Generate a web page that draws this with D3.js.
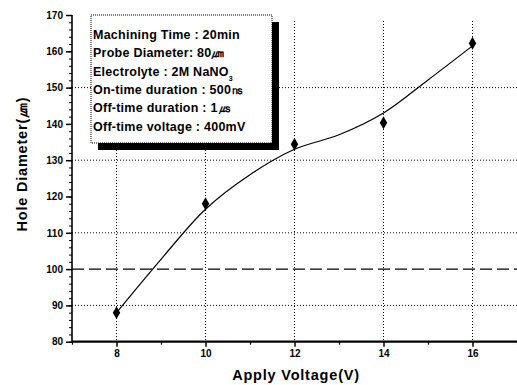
<!DOCTYPE html>
<html>
<head>
<meta charset="utf-8">
<script src="https://cdn.jsdelivr.net/npm/d3@7"></script>
<style>
  body { margin: 0; background: #fff; }
  svg { display: block; font-family: "Liberation Sans", Arial, sans-serif; font-weight: bold; }
</style>
</head>
<body>
<svg id="drawing_region"></svg>
<script>
// measured points
const voltage  = [8, 10, 12, 14, 16];
const diameter = [88, 118, 134.4, 140.3, 162.2];

// fitted curve
const fitVoltage  = [8, 9, 10, 11, 12, 13, 14, 15, 16];
const fitDiameter = [88, 102.7, 116.5, 126, 133, 137, 143, 152.1, 161.5];

const xTicks = [8, 10, 12, 14, 16];
const yTicks = [80, 90, 100, 110, 120, 130, 140, 150, 160, 170];
const gridY  = [90, 110, 130, 150];
const refY   = 100;

const noteLines = [
    ['Machining Time : 20min'],
    ['Probe Diameter: 80㎛'],
    ['Electrolyte : 2M NaNO', '3'],
    ['On-time duration : 500㎱'],
    ['Off-time duration : 1㎲'],
    ['Off-time voltage : 400mV']
];

const config = {
    width: 517, height: 385,
    margin: { top: 15, right: 0, bottom: 43.3, left: 72 }
};

const svg = d3.select('#drawing_region')
    .attr('width', config.width)
    .attr('height', config.height);

const chart = svg.append('g')
    .attr('transform', `translate(${config.margin.left}, ${config.margin.top})`);

const inner_width  = config.width  - config.margin.left - config.margin.right;
const inner_height = config.height - config.margin.top  - config.margin.bottom;

const xscale = d3.scaleLinear().domain([7, 17]).range([0, inner_width]);
const yscale = d3.scaleLinear().domain([80, 170]).range([inner_height, 0]);

// grid
chart.append('g').selectAll('line')
    .data(xTicks)
    .join('line')
    .attr('x1', d => xscale(d)).attr('x2', d => xscale(d))
    .attr('y1', 6).attr('y2', inner_height)
    .attr('stroke', '#000').attr('stroke-width', 1)
    .attr('stroke-dasharray', '1,2');

chart.append('g').selectAll('line')
    .data(gridY)
    .join('line')
    .attr('x1', 0).attr('x2', inner_width)
    .attr('y1', d => yscale(d)).attr('y2', d => yscale(d))
    .attr('stroke', '#000').attr('stroke-width', 1)
    .attr('stroke-dasharray', '1,2');

chart.append('line')
    .attr('x1', 0).attr('x2', inner_width)
    .attr('y1', yscale(refY)).attr('y2', yscale(refY))
    .attr('stroke', '#000').attr('stroke-width', 1.2)
    .attr('stroke-dasharray', '12,5');

// fitted curve
const line = d3.line()
    .x(d => xscale(d[0]))
    .y(d => yscale(d[1]))
    .curve(d3.curveCatmullRom);

chart.append('path')
    .datum(d3.zip(fitVoltage, fitDiameter))
    .attr('d', line)
    .attr('fill', 'none')
    .attr('stroke', '#000')
    .attr('stroke-width', 1.2);

// points
chart.append('g').selectAll('path')
    .data(d3.zip(voltage, diameter))
    .join('path')
    .attr('transform', d => `translate(${xscale(d[0])}, ${yscale(d[1])})`)
    .attr('d', d3.symbol(d3.symbolDiamond, 48))
    .attr('fill', '#000');

// note box
const box = { x: 19, y: 0, w: 181, h: 128, shadow: 7 };
const note = chart.append('g');
note.append('rect')
    .attr('x', box.x + box.shadow).attr('y', box.y + box.shadow)
    .attr('width', box.w).attr('height', box.h)
    .attr('fill', '#000');
note.append('rect')
    .attr('x', box.x).attr('y', box.y)
    .attr('width', box.w).attr('height', box.h)
    .attr('fill', '#fff')
    .attr('stroke', '#000').attr('stroke-width', 1)
    .attr('stroke-dasharray', '1,1');

const noteText = note.selectAll('text')
    .data(noteLines)
    .join('text')
    .attr('x', box.x + 2)
    .attr('y', (d, i) => 24 + i * 18.3)
    .attr('font-size', 12.5)
    .attr('letter-spacing', 0.25);
noteText.append('tspan').text(d => d[0]);
noteText.filter(d => d.length > 1)
    .append('tspan')
    .attr('dy', 5)
    .attr('font-size', 7)
    .text(d => d[1]);

// axes
const xaxis = d3.axisBottom(xscale)
    .tickValues(xTicks).tickSize(5).tickPadding(3)
    .tickFormat(d3.format('d'));
const xminor = d3.axisBottom(xscale)
    .tickValues(d3.range(7, 17, 2).concat([17])).tickSize(3).tickFormat('');
const yaxis = d3.axisLeft(yscale)
    .tickValues(yTicks).tickSize(6).tickPadding(3)
    .tickFormat(d3.format('d'));
const yminor = d3.axisLeft(yscale)
    .tickValues(d3.range(80, 171, 2)).tickSize(3).tickFormat('');

function styleAxis(g, w) {
    g.select('.domain').attr('stroke-width', w);
    g.selectAll('.tick line').attr('stroke-width', 1.5);
    g.selectAll('text').attr('font-size', 10).attr('fill', '#000');
}

chart.append('g')
    .attr('transform', `translate(0, ${inner_height})`)
    .call(xminor)
    .call(g => g.select('.domain').remove())
    .call(g => g.selectAll('.tick line').attr('stroke-width', 1.2));
chart.append('g')
    .attr('transform', `translate(0, ${inner_height})`)
    .call(xaxis)
    .call(g => g.select('.domain').attr('d', `M0,0H${inner_width}`))
    .call(g => styleAxis(g, 2.2));

chart.append('g')
    .call(yminor)
    .call(g => g.select('.domain').remove())
    .call(g => g.selectAll('.tick line').attr('stroke-width', 1));
chart.append('g')
    .call(yaxis)
    .call(g => g.select('.domain').attr('d', `M0,0V${inner_height}`))
    .call(g => styleAxis(g, 1.6));

// axis titles
svg.append('text')
    .attr('x', 296).attr('y', 380)
    .attr('text-anchor', 'middle')
    .attr('font-size', 14.5)
    .attr('letter-spacing', 0.8)
    .text('Apply Voltage(V)');

svg.append('text')
    .attr('transform', 'translate(27, 164) rotate(-90)')
    .attr('text-anchor', 'middle')
    .attr('font-size', 14.5)
    .attr('letter-spacing', 0.8)
    .text('Hole Diameter(㎛)');
</script>
</body>
</html>
